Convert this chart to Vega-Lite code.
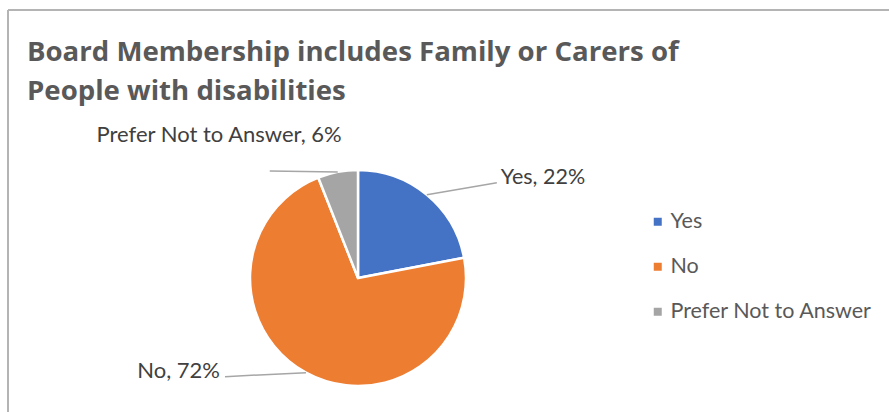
{
  "$schema": "https://vega.github.io/schema/vega-lite/v6.json",
  "width": 881,
  "height": 402,
  "autosize": "none",
  "padding": {"left": 8, "top": 10, "right": 0, "bottom": 0},
  "background": "white",
  "config": {
    "view": {"stroke": null},
    "font": "Lato",
    "legend": {
      "orient": "none",
      "legendX": 639,
      "legendY": 201,
      "symbolType": "square",
      "symbolSize": 64,
      "symbolStrokeWidth": 0,
      "labelFont": "Lato",
      "labelFontSize": 21.5,
      "labelColor": "#595959",
      "labelOffset": 2,
      "labelLimit": 400,
      "rowPadding": 22,
      "padding": 0,
      "title": null
    }
  },
  "title": {
    "text": ["Board Membership includes Family or Carers of", "People with disabilities"],
    "anchor": "start",
    "frame": "group",
    "orient": "top",
    "baseline": "top",
    "offset": 0,
    "dx": 19,
    "dy": 97,
    "font": "Open Sans",
    "fontSize": 27.6,
    "fontWeight": "bold",
    "color": "#595959",
    "lineHeight": 39.5
  },
  "data": {
    "values": [
      {"cat": "Yes", "pct": 22, "ord": 1},
      {"cat": "No", "pct": 72, "ord": 2},
      {"cat": "Prefer Not to Answer", "pct": 6, "ord": 3}
    ]
  },
  "transform": [
    {"window": [{"op": "sum", "field": "pct", "as": "cum"}], "sort": [{"field": "ord"}], "frame": [null, 0]},
    {"calculate": "2*PI*(datum.cum - datum.pct/2)/100", "as": "mid"},
    {"calculate": "108*sin(datum.mid)", "as": "ex"},
    {"calculate": "-108*cos(datum.mid)", "as": "ey"},
    {"calculate": "datum.cat === 'Yes' ? 70 : datum.cat === 'No' ? -81 : -68", "as": "ldx"},
    {"calculate": "datum.cat === 'Yes' ? -12 : datum.cat === 'No' ? 4 : -1", "as": "ldy"},
    {"calculate": "datum.cat === 'Yes' ? 74 : datum.cat === 'No' ? -86 : 4", "as": "tdx"},
    {"calculate": "datum.cat === 'Yes' ? -17 : datum.cat === 'No' ? -2 : -37", "as": "tdy"},
    {"calculate": "datum.ex + datum.ldx", "as": "lx"},
    {"calculate": "datum.ey + datum.ldy", "as": "ly"},
    {"calculate": "datum.ex + datum.tdx", "as": "tx"},
    {"calculate": "datum.ey + datum.tdy", "as": "ty"},
    {"calculate": "datum.cat + ', ' + datum.pct + '%'", "as": "label"}
  ],
  "layer": [
    {
      "transform": [{"filter": "datum.ord === 1"}],
      "mark": {"type": "rule", "stroke": "#b4b4b4", "strokeWidth": 2},
      "encoding": {
        "x": {"datum": -350, "type": "quantitative", "scale": {"domain": [-350, 531], "nice": false, "zero": false}, "axis": null}
      }
    },
    {
      "transform": [{"filter": "datum.ord === 1"}],
      "mark": {"type": "rule", "stroke": "#b4b4b4", "strokeWidth": 2},
      "encoding": {
        "y": {"datum": -268, "type": "quantitative", "scale": {"domain": [-268, 134], "nice": false, "zero": false, "reverse": true}, "axis": null}
      }
    },
    {
      "mark": {"type": "arc", "outerRadius": 108, "stroke": "white", "strokeWidth": 2.5},
      "encoding": {
        "x": {"datum": 0, "type": "quantitative", "scale": {"domain": [-350, 531], "nice": false, "zero": false}, "axis": null},
        "y": {"datum": 0, "type": "quantitative", "scale": {"domain": [-268, 134], "nice": false, "zero": false, "reverse": true}, "axis": null},
        "theta": {"field": "pct", "type": "quantitative", "stack": true},
        "order": {"field": "ord", "type": "quantitative"},
        "color": {
          "field": "cat",
          "type": "nominal",
          "scale": {"domain": ["Yes", "No", "Prefer Not to Answer"], "range": ["#4472C4", "#ED7D31", "#A5A5A5"]},
          "legend": {}
        }
      }
    },
    {
      "mark": {"type": "rule", "stroke": "#a6a6a6", "strokeWidth": 1.5},
      "encoding": {
        "x": {"field": "ex", "type": "quantitative", "scale": {"domain": [-350, 531], "nice": false, "zero": false}, "axis": null},
        "y": {"field": "ey", "type": "quantitative", "scale": {"domain": [-268, 134], "nice": false, "zero": false, "reverse": true}, "axis": null},
        "x2": {"field": "lx"},
        "y2": {"field": "ly"}
      }
    },
    {
      "transform": [{"filter": "datum.cat === 'Yes'"}],
      "mark": {"type": "text", "align": "left", "baseline": "middle", "font": "Lato", "fontSize": 21.5, "color": "#404040"},
      "encoding": {
        "x": {"field": "tx", "type": "quantitative", "scale": {"domain": [-350, 531], "nice": false, "zero": false}, "axis": null},
        "y": {"field": "ty", "type": "quantitative", "scale": {"domain": [-268, 134], "nice": false, "zero": false, "reverse": true}, "axis": null},
        "text": {"field": "label"}
      }
    },
    {
      "transform": [{"filter": "datum.cat !== 'Yes'"}],
      "mark": {"type": "text", "align": "right", "baseline": "middle", "font": "Lato", "fontSize": 22, "color": "#404040"},
      "encoding": {
        "x": {"field": "tx", "type": "quantitative", "scale": {"domain": [-350, 531], "nice": false, "zero": false}, "axis": null},
        "y": {"field": "ty", "type": "quantitative", "scale": {"domain": [-268, 134], "nice": false, "zero": false, "reverse": true}, "axis": null},
        "text": {"field": "label"}
      }
    }
  ]
}
